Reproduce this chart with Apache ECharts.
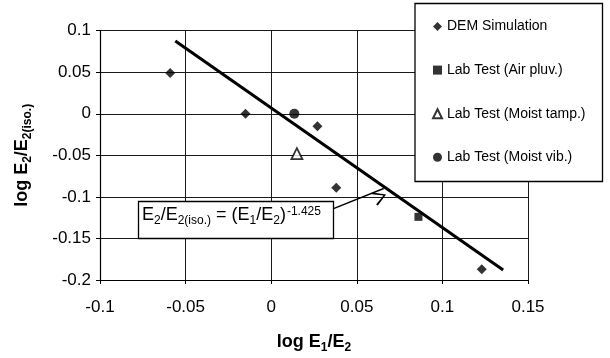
<!DOCTYPE html>
<html>
<head>
<meta charset="utf-8">
<script src="https://cdn.jsdelivr.net/npm/echarts@6/dist/echarts.min.js"></script>
<style>html,body{margin:0;padding:0;background:#fff}#c{width:610px;height:358px}</style>
</head>
<body>
<div id="c"></div>
<script>
// ---- data ----
const seriesNames = ['DEM Simulation', 'Lab Test (Air pluv.)', 'Lab Test (Moist tamp.)', 'Lab Test (Moist vib.)'];
const demX = [-0.059, -0.015, 0.027, 0.038, 0.123];
const demY = [0.049, 0.0, -0.015, -0.089, -0.187];
const airPluvX = [0.086];
const airPluvY = [-0.124];
const moistTampX = [0.015];
const moistTampY = [-0.048];
const moistVibX = [0.0135];
const moistVibY = [0.0];
const fitX = [-0.056, 0.1355];
const fitY = [0.0875, -0.188];
const arrowFrom = [0.0364, -0.114];
const arrowTo = [0.0657, -0.0899];
const xMin = -0.1, xMax = 0.15, xStep = 0.05;
const yMin = -0.2, yMax = 0.1, yStep = 0.05;

const pair = (xs, ys) => xs.map((x, i) => [x, ys[i]]);
const FONT = '"Liberation Sans", Arial, Helvetica, sans-serif';

const chart = echarts.init(document.getElementById('c'), null, {renderer: 'canvas'});
const titleRich = {
  m: {fontSize: 18, fontWeight: 'bold', fontFamily: FONT, color: '#000', lineHeight: 18, verticalAlign: 'top'},
  s: {fontSize: 12, fontWeight: 'bold', fontFamily: FONT, color: '#000', lineHeight: 21, verticalAlign: 'bottom'}
};
const axisCommon = {
  type: 'value',
  axisLine: {show: true, onZero: false, lineStyle: {color: '#000', width: 1.2}},
  axisTick: {show: true, inside: false, length: 4, lineStyle: {color: '#000', width: 1}},
  splitLine: {show: true, showMinLine: true, showMaxLine: true, lineStyle: {color: '#1a1a1a', width: 1}},
  axisLabel: {color: '#000', fontSize: 17, fontFamily: FONT},
  nameLocation: 'middle',
  nameTextStyle: {color: '#000', fontFamily: FONT, fontWeight: 'bold', fontSize: 18, rich: titleRich}
};

chart.setOption({
  animation: false,
  backgroundColor: '#fff',
  grid: {left: 100, right: 82, top: 30.7, bottom: 78, containLabel: false, outerBoundsMode: 'none'},
  xAxis: Object.assign({}, axisCommon, {
    min: xMin, max: xMax, interval: xStep,
    axisLabel: Object.assign({}, axisCommon.axisLabel, {margin: 19}),
    name: '{m|log E}{s|1}{m|/E}{s|2}',
    nameGap: 53
  }),
  yAxis: Object.assign({}, axisCommon, {
    min: yMin, max: yMax, interval: yStep,
    axisLabel: Object.assign({}, axisCommon.axisLabel, {margin: 9}),
    name: '{m|log E}{s|2}{m|/E}{s|2(iso.)}',
    nameGap: 66
  }),
  legend: {
    data: seriesNames,
    orient: 'vertical',
    left: 432, top: 19.5,
    padding: 0,
    itemGap: 29.6,
    itemWidth: 9, itemHeight: 9,
    z: 200,
    textStyle: {fontSize: 14, color: '#000', fontFamily: FONT},
    selectedMode: false
  },
  graphic: [
    {type: 'rect', z: 100, silent: true,
     shape: {x: 415, y: 3.5, width: 187.5, height: 178},
     style: {fill: '#fff', stroke: '#000', lineWidth: 1.3}},
    {type: 'rect', z: 100, silent: true,
     shape: {x: 138.5, y: 201.5, width: 195, height: 37},
     style: {fill: '#fff', stroke: '#000', lineWidth: 1.3}},
    {type: 'text', z: 101, silent: true,
     style: {
       x: 142, y: 206,
       text: '{m|E}{s|2}{m|/E}{s|2(iso.)}{m| = (E}{s|1}{m|/E}{s|2}{m|)}{p|-1.425}',
       rich: {
         m: {fontSize: 18, fontFamily: FONT, fill: '#000', lineHeight: 18, verticalAlign: 'top'},
         s: {fontSize: 12, fontFamily: FONT, fill: '#000', lineHeight: 21, verticalAlign: 'bottom'},
         p: {fontSize: 12, fontFamily: FONT, fill: '#000', lineHeight: 12, verticalAlign: 'top', padding: [0, 0, 0, 1]}
       }
     }}
  ],
  series: [
    {name: seriesNames[0], type: 'scatter', symbol: 'diamond', symbolSize: 10, z: 10,
     itemStyle: {color: '#000'}, data: pair(demX, demY)},
    {name: seriesNames[1], type: 'scatter', symbol: 'rect', symbolSize: 8, z: 10,
     itemStyle: {color: '#000'}, data: pair(airPluvX, airPluvY)},
    {name: seriesNames[2], type: 'scatter', symbol: 'triangle', symbolSize: 11, z: 10,
     itemStyle: {color: '#fff', borderColor: '#000', borderWidth: 1.8}, data: pair(moistTampX, moistTampY)},
    {name: seriesNames[3], type: 'scatter', symbol: 'circle', symbolSize: 10, z: 10,
     itemStyle: {color: '#000'}, data: pair(moistVibX, moistVibY)},
    {name: 'fit', type: 'line', showSymbol: false, symbol: 'none', z: 8,
     lineStyle: {color: '#000', width: 3}, data: pair(fitX, fitY),
     markLine: {
       silent: true, animation: false,
       symbol: ['none', 'path://M5,0 L10,9 L9,10 L5,2.2 L1,10 L0,9 Z'],
       symbolSize: [14, 13],
       symbolOffset: [0, 6.5],
       label: {show: false},
       lineStyle: {color: '#000', width: 1.4, type: 'solid'},
       data: [[{coord: arrowFrom}, {coord: arrowTo}]]
     }}
  ]
});
</script>
</body>
</html>
